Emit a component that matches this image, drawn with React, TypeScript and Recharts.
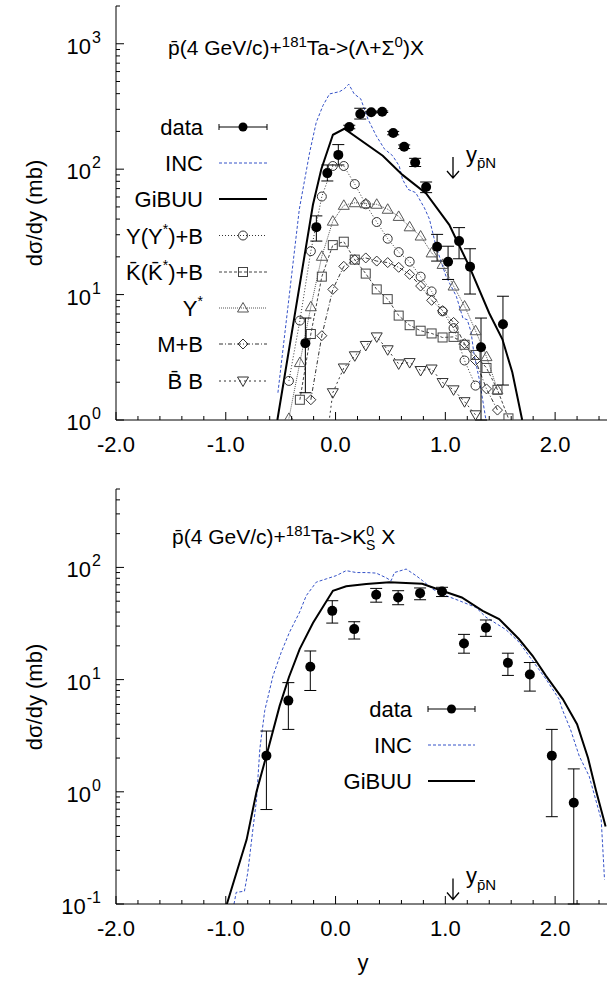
import React from "react";
import { ComposedChart, Line, Scatter, XAxis, YAxis, ErrorBar } from "recharts";

const FONT = '"Liberation Sans", Arial, Helvetica, sans-serif';

// ---------- upper panel: pbar + Ta -> (Lambda + Sigma0) X ----------
const lamX = [-0.275, -0.175, -0.075, 0.025, 0.125, 0.225, 0.325, 0.425, 0.525, 0.625, 0.725, 0.825, 0.925, 1.025, 1.125, 1.225, 1.325, 1.525];
const lamVal = [4.1, 34.5, 93, 130, 217, 275, 284, 287, 194, 151, 113, 72, 24.1, 18.3, 26.7, 16.7, 3.8, 5.8];
const lamLo = [1.65, 26.7, 80.5, 108, 210, 251, 280, 283, 188, 146, 105, 65, 18.5, 13.2, 19.3, 10.1, 1, 1.9];
const lamHi = [6.5, 42.4, 108, 157, 224, 306, 289, 291, 200, 156, 122, 79, 30.2, 24.3, 34.2, 23.2, 6.5, 9.7];

const incTopX = [-0.525, -0.33, -0.236, -0.176, -0.115, -0.055, 0.036, 0.08, 0.12, 0.17, 0.23, 0.295, 0.37, 0.445, 0.52, 0.58, 0.61, 0.66, 0.73, 0.81, 0.855, 0.915, 1.006, 1.1, 1.16, 1.2, 1.235, 1.26, 1.31, 1.37];
const incTopVal = [1.65, 48, 136, 236, 321, 398, 415, 437, 476, 398, 363, 251, 185, 145, 128, 106, 83, 69, 65, 49, 40, 24.3, 14, 9.7, 6.5, 6.3, 5, 3.4, 2.1, 1.0];

const gibuuTopX = [-0.53, -0.206, -0.13, -0.024, 0.08, 0.43, 0.61, 0.825, 1.036, 1.1, 1.218, 1.4, 1.52, 1.61, 1.7];
const gibuuTopVal = [1, 52, 100, 188, 210, 128, 90, 64, 36, 27.5, 16.8, 7.1, 4.4, 2.4, 1];

const yybX = [-0.425, -0.325, -0.225, -0.125, -0.025, 0.075, 0.175, 0.275, 0.375, 0.475, 0.575, 0.675, 0.775, 0.875, 0.975, 1.075, 1.175, 1.275];
const yybVal = [2.05, 6.2, 22.2, 60.5, 106, 106, 76, 52.5, 37.9, 27.9, 21.8, 18.3, 13.9, 10.6, 7.35, 5.4, 2.98, 1.88];

const kbX = [-0.325, -0.225, -0.125, -0.025, 0.075, 0.175, 0.275, 0.375, 0.475, 0.575, 0.675, 0.775, 0.875, 0.975, 1.075, 1.175, 1.275, 1.375, 1.475, 1.575];
const kbVal = [1.45, 4.85, 13.9, 24.8, 26.4, 19, 14.7, 11, 9.2, 6.8, 5.7, 5.15, 4.9, 4.55, 4.6, 3.98, 3.3, 2.6, 1.74, 1.03];

const ystX = [-0.425, -0.325, -0.225, -0.125, -0.025, 0.075, 0.175, 0.275, 0.375, 0.475, 0.575, 0.675, 0.775, 0.875, 0.975, 1.075, 1.175, 1.275, 1.375, 1.475];
const ystVal = [1.03, 2.87, 8, 20.2, 38.5, 51.5, 54, 53, 52.5, 47.9, 42, 34.7, 29.3, 21.5, 17.4, 11.7, 8.1, 5.15, 3.2, 1.74];

const mbX = [-0.225, -0.125, -0.025, 0.075, 0.175, 0.275, 0.375, 0.475, 0.575, 0.675, 0.775, 0.875, 0.975, 1.075, 1.175, 1.275, 1.375, 1.475];
const mbVal = [1.45, 4.7, 11, 16.8, 19, 19.6, 18.5, 18, 16.5, 14.5, 11.7, 9, 7.45, 6, 4.06, 2.98, 1.77, 1.2];

const bbX = [-0.125, -0.025, 0.075, 0.175, 0.275, 0.375, 0.475, 0.575, 0.675, 0.775, 0.875, 0.975, 1.075, 1.175, 1.275];
const bbVal = [0.35, 1.65, 2.6, 3.25, 3.93, 4.6, 3.63, 2.8, 2.87, 2.48, 2.55, 1.99, 1.74, 1.4, 1.1];

// ---------- lower panel: pbar + Ta -> K0s X ----------
const k0X = [-0.63, -0.43, -0.23, -0.03, 0.17, 0.37, 0.57, 0.77, 0.97, 1.17, 1.37, 1.57, 1.77, 1.97, 2.17];
const k0Val = [2.1, 6.5, 13, 41, 28.2, 57, 54, 59, 61, 21, 29, 14.1, 11.1, 2.1, 0.8];
const k0Lo = [0.695, 3.6, 8, 31.9, 23, 49, 46.5, 51.5, 55, 17.2, 24.3, 10.9, 7.9, 0.6, 0.1];
const k0Hi = [3.48, 9.4, 18, 50.5, 32.8, 65, 62, 65.6, 66.5, 25.3, 34, 17.2, 14.2, 3.6, 1.6];

const incBotX = [-0.925, -0.905, -0.83, -0.8, -0.75, -0.72, -0.69, -0.645, -0.57, -0.495, -0.42, -0.327, -0.267, -0.175, -0.085, 0.006, 0.097, 0.188, 0.28, 0.37, 0.46, 0.506, 0.536, 0.643, 0.733, 0.794, 0.885, 1.006, 1.127, 1.279, 1.37, 1.55, 1.673, 1.795, 1.917, 2.036, 2.066, 2.14, 2.22, 2.31, 2.37, 2.42, 2.45];
const incBotVal = [0.1, 0.127, 0.13, 0.19, 0.49, 0.85, 2.4, 5.3, 10.8, 17.5, 26.4, 40, 56, 74, 79, 84.5, 93.6, 90, 90, 89, 81, 76, 90, 96.7, 84.5, 76, 64, 56, 50.5, 44, 36, 28, 21.5, 14.7, 10.1, 6.7, 5.4, 3.6, 2.08, 1.38, 0.85, 0.565, 0.165];

const gibuuBotX = [-0.99, -0.81, -0.72, -0.63, -0.51, -0.425, -0.327, -0.206, -0.024, 0.097, 0.28, 0.49, 0.79, 0.97, 1.15, 1.34, 1.49, 1.67, 1.795, 1.917, 2.07, 2.2, 2.3, 2.37, 2.46];
const gibuuBotVal = [0.1, 0.375, 1, 2.1, 5.8, 10.5, 18.7, 32, 62, 68, 71, 73.8, 71.5, 62, 54, 41, 34.7, 23, 16.3, 10.8, 6.7, 4, 2, 1.05, 0.49];

// ---------- ticks ----------
const xTicks = [-2, -1.8, -1.6, -1.4, -1.2, -1, -0.8, -0.6, -0.4, -0.2, 0, 0.2, 0.4, 0.6, 0.8, 1, 1.2, 1.4, 1.6, 1.8, 2, 2.2, 2.4];
const yTicksTop = [1, 2, 3, 4, 5, 6, 7, 8, 9, 10, 20, 30, 40, 50, 60, 70, 80, 90, 100, 200, 300, 400, 500, 600, 700, 800, 900, 1000, 2000];
const yTicksBot = [0.1, 0.2, 0.3, 0.4, 0.5, 0.6, 0.7, 0.8, 0.9, 1, 2, 3, 4, 5, 6, 7, 8, 9, 10, 20, 30, 40, 50, 60, 70, 80, 90, 100, 200, 300, 400, 500];

const pts = (xs: number[], vs: number[]) => xs.map((x, i) => ({ x, v: vs[i] }));
const ptsErr = (xs: number[], vs: number[], lo: number[], hi: number[]) =>
  xs.map((x, i) => ({ x, v: vs[i], err: [vs[i] - lo[i], hi[i] - vs[i]] }));

const GAP = 10;
const isDecade = (v: number) => {
  const l = Math.log10(v);
  return Math.abs(l - Math.round(l)) < 1e-6;
};
const isInt = (v: number) => Math.abs(v - Math.round(v)) < 1e-6;

function LeftTick(props: any) {
  const { x, y, payload } = props;
  const ax = x + GAP;
  const major = isDecade(payload.value);
  return (
    <g>
      <line x1={ax} x2={ax + (major ? 8 : 4)} y1={y} y2={y} stroke="#000" />
      {major && (
        <text x={101} y={y + 10} textAnchor="end" fontFamily={FONT} fontSize={22} fill="#000">
          10<tspan dx={1} dy={-11} fontSize={16}>{Math.round(Math.log10(payload.value))}</tspan>
        </text>
      )}
    </g>
  );
}

function RightTick(props: any) {
  const { x, y, payload } = props;
  const ax = x - GAP;
  const major = isDecade(payload.value);
  return <line x1={ax - (major ? 8 : 4)} x2={ax} y1={y} y2={y} stroke="#000" />;
}

function BottomTick(props: any) {
  const { x, y, payload } = props;
  const ay = y - GAP;
  const major = isInt(payload.value);
  return (
    <g>
      <line x1={x} x2={x} y1={ay} y2={ay - (major ? 8 : 4)} stroke="#000" />
      {major && (
        <text x={x} y={ay + 32} textAnchor="middle" fontFamily={FONT} fontSize={22} fill="#000">
          {payload.value.toFixed(1)}
        </text>
      )}
    </g>
  );
}

function TopTick(props: any) {
  const { x, y, payload } = props;
  const ay = y + GAP;
  const major = isInt(payload.value);
  return <line x1={x} x2={x} y1={ay} y2={ay + (major ? 8 : 4)} stroke="#000" />;
}

const axes = (yDomain: number[], yTicks: number[]) => [
  <XAxis key="xb" type="number" dataKey="x" domain={[-2, 2.5]} allowDataOverflow ticks={xTicks} interval={0}
    tickSize={0} tickMargin={GAP} tick={<BottomTick />} height={40} axisLine={{ stroke: "#000" }} />,
  <XAxis key="xt" xAxisId="t" orientation="top" type="number" dataKey="x" domain={[-2, 2.5]} allowDataOverflow
    ticks={xTicks} interval={0} tickSize={0} tickMargin={GAP} tick={<TopTick />} height={0} axisLine={{ stroke: "#000" }} />,
  <YAxis key="yl" type="number" dataKey="v" scale="log" domain={yDomain} allowDataOverflow ticks={yTicks} interval={0}
    tickSize={0} tickMargin={GAP} tick={<LeftTick />} width={116} axisLine={{ stroke: "#000" }} />,
  <YAxis key="yr" yAxisId="r" orientation="right" type="number" dataKey="v" scale="log" domain={yDomain} allowDataOverflow
    ticks={yTicks} interval={0} tickSize={0} tickMargin={GAP} tick={<RightTick />} width={0} axisLine={{ stroke: "#000" }} />,
];

type Kind = "circle" | "square" | "up" | "down" | "diamond";

function Sym({ kind, cx, cy, color }: { kind: Kind; cx: number; cy: number; color: string }) {
  const common = { fill: "none", stroke: color, strokeWidth: 1 };
  if (kind === "circle") return <circle cx={cx} cy={cy} r={4.5} {...common} />;
  if (kind === "square") return <rect x={cx - 4.5} y={cy - 4.5} width={9} height={9} {...common} />;
  if (kind === "up") return <polygon points={`${cx - 5.5},${cy + 4} ${cx + 5.5},${cy + 4} ${cx},${cy - 5.5}`} {...common} />;
  if (kind === "down") return <polygon points={`${cx - 5.5},${cy - 4} ${cx + 5.5},${cy - 4} ${cx},${cy + 5.5}`} {...common} />;
  return <polygon points={`${cx},${cy - 5} ${cx + 5},${cy} ${cx},${cy + 5} ${cx - 5},${cy}`} {...common} />;
}

const models = [
  { id: "yyb", xs: yybX, vs: yybVal, kind: "circle" as Kind, color: "#333", dash: "1 2" },
  { id: "kb", xs: kbX, vs: kbVal, kind: "square" as Kind, color: "#444", dash: "3 2" },
  { id: "yst", xs: ystX, vs: ystVal, kind: "up" as Kind, color: "#555", dash: "1 1" },
  { id: "mb", xs: mbX, vs: mbVal, kind: "diamond" as Kind, color: "#333", dash: "4 2 1 2" },
  { id: "bb", xs: bbX, vs: bbVal, kind: "down" as Kind, color: "#333", dash: "2 3" },
];

const INC_COLOR = "#3552c8";

const dataDot = (p: any) => <circle cx={p.cx} cy={p.cy} r={5} fill="#000" />;

function DataSample({ y, x0, x1 }: { y: number; x0: number; x1: number }) {
  const c = (x0 + x1) / 2;
  return (
    <g stroke="#000">
      <line x1={x0} x2={x1} y1={y} y2={y} />
      <line x1={x0} x2={x0} y1={y - 3} y2={y + 3} />
      <line x1={x1} x2={x1} y1={y - 3} y2={y + 3} />
      <circle cx={c} cy={y} r={4.5} fill="#000" stroke="none" />
    </g>
  );
}

const txt = { fontFamily: FONT, fill: "#000" };

// down arrow + y_pbarN label, tip of arrow at (ax, tipY)
function YpnMark({ ax, tipY }: { ax: number; tipY: number }) {
  return (
    <g>
      <path d={`M${ax},${tipY - 21} L${ax},${tipY} M${ax - 6},${tipY - 7} L${ax},${tipY} L${ax + 6},${tipY - 7}`}
        stroke="#000" strokeWidth={1.3} fill="none" />
      <text x={466} y={tipY - 16.5} fontSize={22} {...txt}>
        y<tspan dy={6.5} fontSize={15}>{"p\u0304N"}</tspan>
      </text>
    </g>
  );
}

function Overlay() {
  const topRows = [127, 163, 199, 235.5, 272, 308, 344, 381];
  const topLabels = [
    <>data</>,
    <>INC</>,
    <>GiBUU</>,
    <>Y(Y<tspan dy={-10} fontSize={14}>*</tspan><tspan dy={10}>)+B</tspan></>,
    <>{"K\u0304(K\u0304"}<tspan dy={-10} fontSize={14}>*</tspan><tspan dy={10}>)+B</tspan></>,
    <>Y<tspan dy={-10} fontSize={14}>*</tspan></>,
    <>M+B</>,
    <>{"B\u0304 B"}</>,
  ];
  const botRows = [709, 745, 781];
  return (
    <svg width={607} height={981} style={{ position: "absolute", left: 0, top: 0, pointerEvents: "none" }}>
      {/* axis titles */}
      <text transform="translate(42,213) rotate(-90)" textAnchor="middle" fontSize={22} {...txt}>dσ/dy (mb)</text>
      <text transform="translate(42,697) rotate(-90)" textAnchor="middle" fontSize={22} {...txt}>dσ/dy (mb)</text>
      <text x={363} y={970} textAnchor="middle" fontSize={22} {...txt}>y</text>

      {/* panel titles */}
      <text x={168} y={55} fontSize={21} {...txt}>
        {"p\u0304(4 GeV/c)+"}<tspan dy={-8} fontSize={15}>181</tspan><tspan dy={8}>{"Ta->(Λ+Σ"}</tspan>
        <tspan dy={-8} fontSize={15}>0</tspan><tspan dy={8}>)X</tspan>
      </text>
      <text x={172} y={544} fontSize={21} {...txt}>
        {"p\u0304(4 GeV/c)+"}<tspan dy={-8} fontSize={15}>181</tspan><tspan dy={8}>{"Ta->K"}</tspan>
        <tspan dy={-8} fontSize={14}>0</tspan><tspan dx={-8} dy={14} fontSize={14}>S</tspan><tspan dy={-6}>{" X"}</tspan>
      </text>

      {/* y_pbarN markers */}
      <YpnMark ax={453} tipY={178} />
      <YpnMark ax={453} tipY={899.5} />

      {/* top legend */}
      {topRows.map((ry, i) => (
        <text key={"l" + i} x={203} y={ry + 8} textAnchor="end" fontSize={22} {...txt}>{topLabels[i]}</text>
      ))}
      <DataSample y={topRows[0]} x0={219} x1={267} />
      <line x1={219} x2={267} y1={topRows[1]} y2={topRows[1]} stroke={INC_COLOR} strokeDasharray="3 2" />
      <line x1={219} x2={267} y1={topRows[2]} y2={topRows[2]} stroke="#000" strokeWidth={2} />
      {models.map((m, i) => (
        <g key={m.id}>
          <line x1={219} x2={267} y1={topRows[i + 3]} y2={topRows[i + 3]} stroke={m.color} strokeDasharray={m.dash} />
          <Sym kind={m.kind} cx={243} cy={topRows[i + 3]} color={m.color} />
        </g>
      ))}

      {/* bottom legend */}
      {["data", "INC", "GiBUU"].map((s, i) => (
        <text key={s} x={412} y={botRows[i] + 8} textAnchor="end" fontSize={22} {...txt}>{s}</text>
      ))}
      <DataSample y={botRows[0]} x0={428} x1={475} />
      <line x1={428} x2={475} y1={botRows[1]} y2={botRows[1]} stroke={INC_COLOR} strokeDasharray="3 2" />
      <line x1={428} x2={475} y1={botRows[2]} y2={botRows[2]} stroke="#000" strokeWidth={2} />
    </svg>
  );
}

export default function App() {
  return (
    <div style={{ position: "absolute", left: 0, top: 0, width: 607, height: 981, overflow: "hidden", background: "#fff" }}>
      <div style={{ position: "absolute", left: 0, top: 0 }}>
        <ComposedChart width={640} height={470} margin={{ top: 6, right: 30, bottom: 10, left: 0 }}>
          {axes([1, 2000], yTicksTop)}
          <Line data={pts(incTopX, incTopVal)} dataKey="v" type="linear" stroke={INC_COLOR} strokeWidth={1}
            strokeDasharray="3 2" dot={false} isAnimationActive={false} />
          {models.map((m) => (
            <Line key={m.id} data={pts(m.xs, m.vs)} dataKey="v" type="linear" stroke={m.color} strokeWidth={1}
              strokeDasharray={m.dash} isAnimationActive={false}
              dot={(p: any) => <Sym key={p.index} kind={m.kind} cx={p.cx} cy={p.cy} color={m.color} />} />
          ))}
          <Line data={pts(gibuuTopX, gibuuTopVal)} dataKey="v" type="linear" stroke="#000" strokeWidth={2}
            dot={false} isAnimationActive={false} />
          <Scatter data={ptsErr(lamX, lamVal, lamLo, lamHi)} dataKey="v" shape={dataDot} isAnimationActive={false}>
            <ErrorBar dataKey="err" direction="y" width={6} stroke="#000" strokeWidth={1} />
          </Scatter>
        </ComposedChart>
      </div>
      <div style={{ position: "absolute", left: 0, top: 470 }}>
        <ComposedChart width={640} height={511} margin={{ top: 19, right: 30, bottom: 37, left: 0 }}>
          {axes([0.1, 500], yTicksBot)}
          <Line data={pts(incBotX, incBotVal)} dataKey="v" type="linear" stroke={INC_COLOR} strokeWidth={1}
            strokeDasharray="3 2" dot={false} isAnimationActive={false} />
          <Line data={pts(gibuuBotX, gibuuBotVal)} dataKey="v" type="linear" stroke="#000" strokeWidth={2}
            dot={false} isAnimationActive={false} />
          <Scatter data={ptsErr(k0X, k0Val, k0Lo, k0Hi)} dataKey="v" shape={dataDot} isAnimationActive={false}>
            <ErrorBar dataKey="err" direction="y" width={6} stroke="#000" strokeWidth={1} />
          </Scatter>
        </ComposedChart>
      </div>
      <Overlay />
    </div>
  );
}
